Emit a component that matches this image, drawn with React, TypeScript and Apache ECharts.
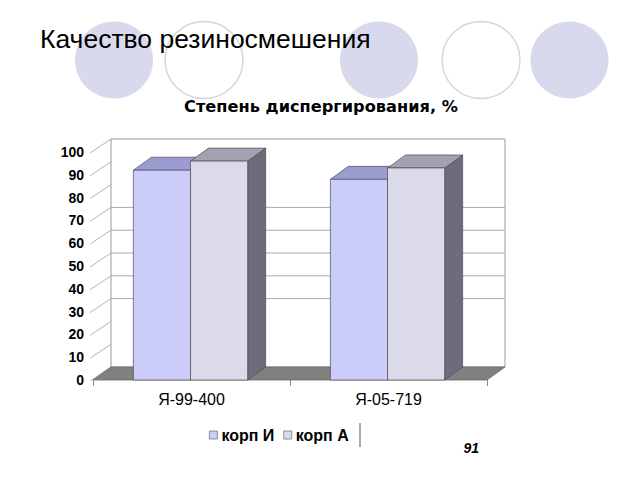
import React, { useEffect, useRef } from "react";
import * as echarts from "echarts";

const categories = ["Я-99-400", "Я-05-719"];
const seriesNames = ["корп И", "корп А"];
const korpI = [92, 88];
const korpA = [96, 93];
const yMin = 0;
const yMax = 100;
const yStep = 10;
const yTickValues = [0, 10, 20, 30, 40, 50, 60, 70, 80, 90, 100];
const backGridValues = [30, 40, 50, 60, 70];

const DX = 18;
const DY = -13;
const BAR_W = 0.29;
const GROUP_OFF = -0.005;

const faceColors = [
  { front: "#ccccfa", top: "#9c9cd0", side: "#66668c" },
  { front: "#dadaea", top: "#a2a2b2", side: "#6c6c7a" },
];

const FONT = "'Liberation Sans', Arial, sans-serif";

export default function App() {
  const ref = useRef<HTMLDivElement>(null);
  useEffect(() => {
    if (!ref.current) return;
    const chart = echarts.init(ref.current, undefined, { renderer: "svg" });

    const sceneRender = (params: any, api: any) => {
      const cs = params.coordSys;
      const x0 = cs.x;
      const x1 = cs.x + cs.width;
      const yv = (v: number) => api.coord([0, v])[1];
      const yb = yv(yMin);
      const yt = yv(yMax);
      const children: any[] = [];
      children.push({
        type: "polygon",
        shape: { points: [[x0 + DX, yt + DY], [x1 + DX, yt + DY], [x1 + DX, yb + DY], [x0 + DX, yb + DY]] },
        style: { fill: "#ffffff", stroke: "#9a9a9a", lineWidth: 1 },
      });
      backGridValues.forEach((v) => {
        const y = yv(v) + DY;
        children.push({
          type: "line",
          shape: { x1: x0 + DX, y1: y, x2: x1 + DX, y2: y },
          style: { stroke: "#a8a8a8", lineWidth: 1 },
        });
      });
      yTickValues.forEach((v) => {
        const y = yv(v);
        children.push({
          type: "line",
          shape: { x1: x0 - 3, y1: y + 1, x2: x0 + DX, y2: y + DY },
          style: { stroke: "#a0a0a0", lineWidth: 0.8 },
        });
      });
      children.push({
        type: "polygon",
        shape: { points: [[x0, yb], [x1, yb], [x1 + DX, yb + DY], [x0 + DX, yb + DY]] },
        style: { fill: "#808080", stroke: "#6a6a6a", lineWidth: 0.8 },
      });
      return { type: "group", children };
    };

    const barRender = (s: number) => (params: any, api: any) => {
      const cat = api.value(0);
      const val = api.value(1);
      const base = api.coord([cat, yMin]);
      const top = api.coord([cat, val]);
      const bw = api.size([1, 0])[0];
      const xl = base[0] + (GROUP_OFF + (s - 1) * BAR_W) * bw;
      const xr = xl + BAR_W * bw;
      const yb = base[1];
      const yt = top[1];
      const c = faceColors[s];
      const edge = { stroke: "#4a4a5a", lineWidth: 0.7 };
      return {
        type: "group",
        children: [
          {
            type: "polygon",
            shape: { points: [[xr, yt], [xr + DX, yt + DY], [xr + DX, yb + DY], [xr, yb]] },
            style: { fill: c.side, ...edge },
          },
          {
            type: "polygon",
            shape: { points: [[xl, yt], [xr, yt], [xr + DX, yt + DY], [xl + DX, yt + DY]] },
            style: { fill: c.top, ...edge },
          },
          {
            type: "rect",
            shape: { x: xl, y: yt, width: xr - xl, height: yb - yt },
            style: { fill: c.front, ...edge },
          },
        ],
      };
    };

    const seriesData = [korpI, korpA];

    chart.setOption({
      animation: false,
      backgroundColor: "#ffffff",
      grid: { left: 93, right: 153, top: 152, bottom: 100, containLabel: false },
      xAxis: {
        type: "category",
        data: categories,
        boundaryGap: true,
        axisLine: { show: false },
        axisTick: { show: true, length: 6, lineStyle: { color: "#8a8a8a" } },
        axisLabel: { color: "#000", fontSize: 16, fontFamily: FONT, margin: 11 },
        splitLine: { show: false },
      },
      yAxis: {
        type: "value",
        min: yMin,
        max: yMax,
        interval: yStep,
        axisLine: { show: false },
        axisTick: { show: false },
        splitLine: { show: false },
        axisLabel: { color: "#000", fontSize: 14, fontWeight: "bold", fontFamily: FONT, margin: 9 },
      },
      legend: {
        left: 209,
        top: 427,
        padding: 0,
        itemWidth: 8,
        itemHeight: 8,
        itemGap: 9,
        icon: "rect",
        textStyle: { color: "#000", fontSize: 16, fontWeight: "bold", fontFamily: FONT, padding: [0, 0, 0, -1] },
        data: seriesNames.map((n, i) => ({
          name: n,
          itemStyle: { color: faceColors[i].front, borderColor: "#777", borderWidth: 0.8 },
        })),
      },
      series: [
        {
          type: "custom",
          name: "scene",
          renderItem: sceneRender,
          data: [[0, 0]],
          silent: true,
        },
        ...seriesNames.map((n, s) => ({
          type: "custom",
          name: n,
          renderItem: barRender(s),
          itemStyle: { color: faceColors[s].front },
          data: seriesData[s].map((v, i) => [i, v]),
        })),
      ],
      graphic: [
        { type: "ellipse", z: 0, shape: { cx: 114, cy: 60, rx: 39, ry: 38.5 }, style: { fill: "#d9d9ed" } },
        { type: "ellipse", z: 0, shape: { cx: 204, cy: 60, rx: 39, ry: 38.5 }, style: { fill: "#ffffff", stroke: "#d6d6de", lineWidth: 1.5 } },
        { type: "ellipse", z: 0, shape: { cx: 379, cy: 60, rx: 39, ry: 38.5 }, style: { fill: "#d9d9ed" } },
        { type: "ellipse", z: 0, shape: { cx: 481, cy: 60, rx: 39, ry: 38.5 }, style: { fill: "#ffffff", stroke: "#d6d6de", lineWidth: 1.5 } },
        { type: "ellipse", z: 0, shape: { cx: 569.5, cy: 60, rx: 39, ry: 38.5 }, style: { fill: "#d9d9ed" } },
        {
          type: "text", z: 10, x: 40, y: 38.5,
          style: { text: "Качество резиносмешения", fill: "#000", fontSize: 26.5, fontFamily: FONT, align: "left", verticalAlign: "middle" },
        },
        {
          type: "text", z: 10, x: 321, y: 106.5,
          style: { text: "Степень диспергирования, %", fill: "#000", fontSize: 16.2, fontWeight: "bold", fontFamily: "'DejaVu Sans', sans-serif", align: "center", verticalAlign: "middle" },
        },
        {
          type: "line", z: 10, shape: { x1: 360, y1: 423, x2: 360, y2: 447 },
          style: { stroke: "#555", lineWidth: 1 },
        },
        {
          type: "text", z: 10, x: 479, y: 447.5,
          style: { text: "91", fill: "#000", fontSize: 14, fontWeight: "bold", fontStyle: "italic", fontFamily: FONT, align: "right", verticalAlign: "middle" },
        },
      ],
    });
    return () => chart.dispose();
  }, []);
  return (
    <div
      ref={ref}
      style={{ position: "fixed", left: 0, top: 0, width: 640, height: 480, background: "#fff" }}
    />
  );
}
